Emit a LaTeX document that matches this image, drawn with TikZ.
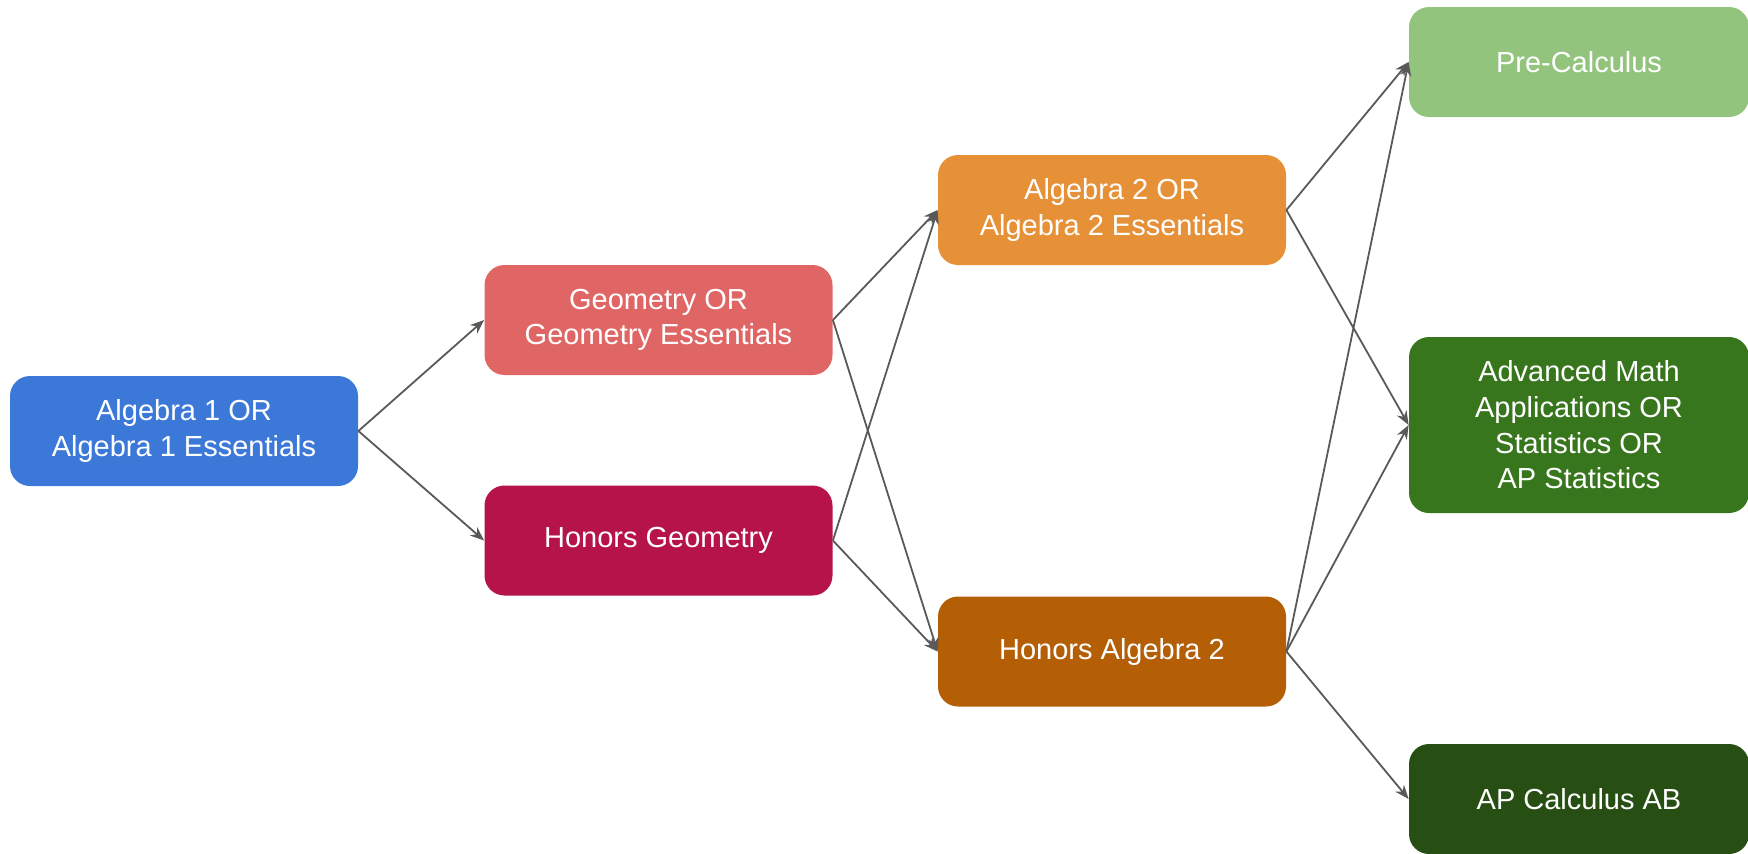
\documentclass[tikz,border=0pt]{standalone}
\usepackage{fontspec}
\setmainfont{Liberation Sans}
\usetikzlibrary{arrows.meta}
\definecolor{cAlgA}{HTML}{3C78D8}
\definecolor{cGeo}{HTML}{E06666}
\definecolor{cHGeo}{HTML}{B5134A}
\definecolor{cAlgB}{HTML}{E69138}
\definecolor{cHAlgB}{HTML}{B45F06}
\definecolor{cPre}{HTML}{93C47D}
\definecolor{cAdv}{HTML}{38761D}
\definecolor{cCalc}{HTML}{274E13}
\definecolor{cLine}{HTML}{595959}
\tikzset{
  course/.style={rectangle, rounded corners=10pt, draw=none, text=white,
    minimum width=174pt, minimum height=55pt, align=center, inner sep=0pt,
    font=\fontsize{14.5}{17.8}\selectfont},
  endcourse/.style={course, minimum width=170pt},
  link/.style={draw=cLine, line width=0.9pt, -{Stealth[length=7pt,width=5.5pt]}}
}
\begin{document}
\begin{tikzpicture}[x=0.5pt,y=-0.5pt]
\useasboundingbox (0,0) rectangle (1748,853);
\node[course, fill=cAlgA] (alg1) at (184,431) {Algebra 1 OR\\Algebra 1 Essentials};
\node[course, fill=cGeo] (geo) at (658.5,320) {Geometry OR\\Geometry Essentials};
\node[course, fill=cHGeo] (hgeo) at (658.5,540.5) {Honors Geometry};
\node[course, fill=cAlgB] (alg2) at (1112,210) {Algebra 2 OR\\Algebra 2 Essentials};
\node[course, fill=cHAlgB] (halg2) at (1112,651.5) {Honors Algebra 2};
\node[endcourse, fill=cPre] (pre) at (1579,62) {Pre-Calculus};
\node[endcourse, fill=cAdv, minimum height=88pt] (adv) at (1579,425) {Advanced Math\\Applications OR\\Statistics OR\\AP Statistics};
\node[endcourse, fill=cCalc] (calc) at (1579,799) {AP Calculus AB};
\draw[link] (alg1.east) -- (geo.west);
\draw[link] (alg1.east) -- (hgeo.west);
\draw[link] (geo.east) -- (alg2.west);
\draw[link] (geo.east) -- (halg2.west);
\draw[link] (hgeo.east) -- (alg2.west);
\draw[link] (hgeo.east) -- (halg2.west);
\draw[link] (alg2.east) -- (pre.west);
\draw[link] (alg2.east) -- (adv.west);
\draw[link] (halg2.east) -- (pre.west);
\draw[link] (halg2.east) -- (adv.west);
\draw[link] (halg2.east) -- (calc.west);
\end{tikzpicture}
\end{document}
